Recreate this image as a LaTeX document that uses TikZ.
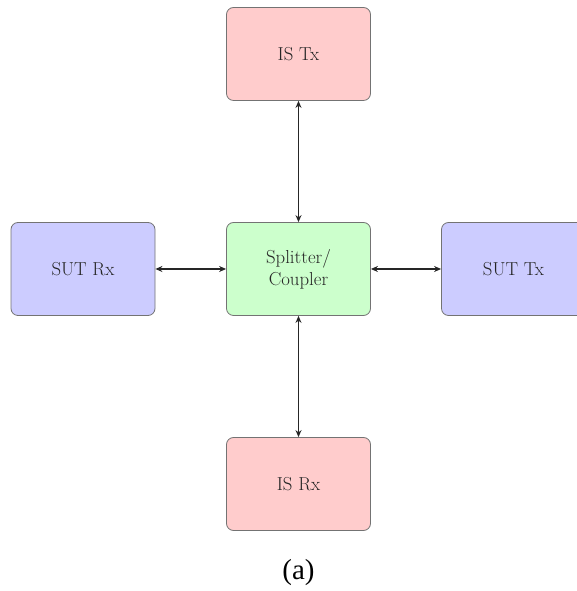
\documentclass[tikz,border=0pt]{standalone}
\usepackage{fontspec}
\newfontfamily\capfont{Liberation Serif}
\usetikzlibrary{arrows.meta}
\begin{document}
\begin{tikzpicture}[x=1pt,y=1pt,
  blockbox/.style={draw=black!55, line width=0.8pt, rounded corners=7pt,
    minimum width=144pt, minimum height=93pt, align=center, inner sep=0pt,
    font=\fontsize{18.8}{22}\selectfont, text=black!85},
  redbox/.style={blockbox, fill=red!20},
  bluebox/.style={blockbox, fill=blue!20},
  greenbox/.style={blockbox, fill=green!20},
  link/.style={{Stealth[length=7pt,width=6pt]}-{Stealth[length=7pt,width=6pt]}, line width=1.5pt, black!85}]
\useasboundingbox (0,0) rectangle (577,591);
\begin{scope}
\clip (0,0) rectangle (577,591);
\node[redbox] (istx) at (298.5,537) {IS Tx};
\node[greenbox] (split) at (298.5,322) {Splitter/\\Coupler};
\node[bluebox] (sutrx) at (83,322) {SUT Rx};
\node[bluebox] (suttx) at (513.5,322) {SUT Tx};
\node[redbox] (isrx) at (298.5,107) {IS Rx};
\draw[link] (istx) -- (split);
\draw[link] (sutrx) -- (split);
\draw[link] (split) -- (suttx);
\draw[link] (split) -- (isrx);
\end{scope}
\node[font=\capfont\fontsize{29}{32}\selectfont, inner sep=0pt] (cap) at (298.5,18.5) {(a)};
\end{tikzpicture}
\end{document}
